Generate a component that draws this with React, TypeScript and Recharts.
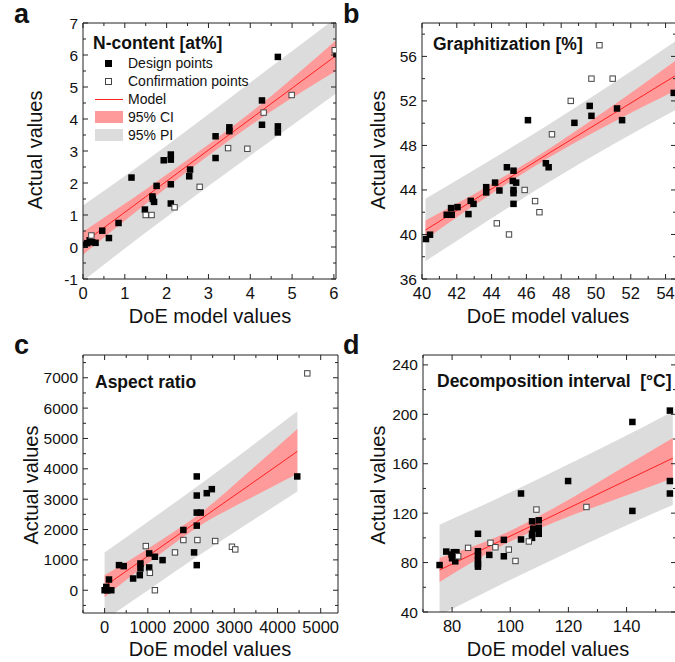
import React from "react";
import { Area, ComposedChart, Line, ReferenceLine, Scatter, XAxis, YAxis } from "recharts";

// ---- panel a: N-content ----
const aDesignX = [0.04, 0.1, 0.16, 0.22, 0.3, 0.46, 0.62, 0.85, 1.16, 1.48, 1.66, 1.67, 1.7, 1.76, 1.93, 2.1, 2.1, 2.1, 2.1, 2.54, 2.56, 3.17, 3.17, 3.5, 3.5, 4.28, 4.28, 4.66, 4.66, 4.66, 6.06];
const aDesignY = [0.07, 0.12, 0.21, 0.15, 0.13, 0.51, 0.28, 0.75, 2.17, 1.17, 1.58, 1.5, 1.41, 1.91, 2.71, 2.89, 2.73, 1.96, 1.36, 2.21, 2.42, 3.46, 2.78, 3.74, 3.62, 4.58, 3.82, 5.94, 3.77, 3.58, 6.03];
const aConfX = [0.2, 1.5, 1.64, 2.19, 2.79, 3.47, 3.93, 4.32, 4.99, 6.02];
const aConfY = [0.36, 1.0, 1.0, 1.24, 1.88, 3.09, 3.07, 4.2, 4.75, 6.15];
const aBandX = [0, 1.5, 3, 4.5, 6.05];
const aModel = [0.12, 1.57, 3.03, 4.48, 5.98];
const aCiLow = [-0.24, 1.34, 2.86, 4.24, 5.5];
const aCiHigh = [0.48, 1.8, 3.2, 4.72, 6.46];
const aPiLow = [-1.06, 0.45, 1.91, 3.33, 4.8];
const aPiHigh = [1.3, 2.69, 4.15, 5.63, 7.16];
const aXMajor = [0, 1, 2, 3, 4, 5, 6];
const aYMajor = [-1, 0, 1, 2, 3, 4, 5, 6, 7];

// ---- panel b: Graphitization ----
const bDesignX = [40.23, 40.46, 41.42, 41.67, 41.71, 42.04, 42.67, 42.8, 42.96, 43.69, 43.69, 44.2, 44.45, 44.88, 45.22, 45.26, 45.41, 45.26, 45.26, 45.26, 46.09, 47.12, 47.28, 48.76, 49.64, 49.74, 51.21, 51.5, 54.47];
const bDesignY = [39.59, 39.98, 41.77, 42.37, 41.77, 42.46, 41.83, 43.02, 42.75, 44.25, 43.78, 44.66, 43.95, 46.04, 44.81, 45.73, 44.66, 44.0, 43.71, 42.75, 50.27, 46.4, 46.04, 50.03, 51.55, 50.66, 51.32, 50.27, 52.72];
const bConfX = [50.2, 49.74, 50.96, 48.55, 47.47, 45.9, 46.5, 46.75, 44.3, 45.0];
const bConfY = [57.0, 54.0, 54.0, 52.0, 49.0, 44.0, 43.0, 42.0, 41.0, 40.0];
const bBandX = [40.2, 43.8, 47.4, 51, 54.6];
const bModel = [40.4, 43.9, 47.4, 50.85, 54.3];
const bCiLow = [39.55, 43.45, 47.0, 50.1, 52.95];
const bCiHigh = [41.25, 44.35, 47.8, 51.6, 55.65];
const bPiLow = [37.6, 41.25, 44.8, 48.1, 51.2];
const bPiHigh = [43.2, 46.55, 50.0, 53.6, 57.4];
const bXMajor = [40, 42, 44, 46, 48, 50, 52, 54];
const bYMajor = [36, 40, 44, 48, 52, 56];

// ---- panel c: Aspect ratio ----
const cDesignX = [0, 39, 62, 101, 155, 333, 442, 659, 814, 829, 829, 1031, 1031, 1163, 1341, 1822, 2070, 2132, 2132, 2132, 2132, 2132, 2225, 2364, 2481, 4457];
const cDesignY = [0, 110, 0, 353, 0, 827, 794, 386, 496, 882, 717, 1213, 750, 1103, 992, 1985, 1246, 3749, 3120, 2558, 2128, 827, 2558, 3197, 3330, 3749];
const cConfX = [953, 1047, 1163, 1628, 1822, 2147, 2558, 2946, 3023, 4690];
const cConfY = [1455, 573, 0, 1246, 1654, 1654, 1621, 1433, 1345, 7144];
const cBandX = [0, 1115, 2230, 3345, 4460];
const cModel = [130, 1240, 2350, 3460, 4575];
const cCiLow = [-230, 1010, 2150, 3010, 3835];
const cCiHigh = [490, 1470, 2550, 3910, 5315];
const cPiLow = [-980, 110, 1190, 2230, 3250];
const cPiHigh = [1240, 2370, 3510, 4690, 5900];
const cXMajor = [0, 1000, 2000, 3000, 4000, 5000];
const cYMajor = [0, 1000, 2000, 3000, 4000, 5000, 6000, 7000];

// ---- panel d: Decomposition interval ----
const dDesignX = [75.7, 78.0, 79.8, 80.0, 80.6, 81.5, 81.1, 88.9, 88.9, 88.9, 88.9, 88.9, 88.9, 92.8, 97.8, 97.8, 103.7, 103.7, 107.5, 107.5, 107.5, 107.9, 109.8, 109.8, 109.8, 119.9, 142.0, 142.0, 154.9, 154.9, 154.9];
const dDesignY = [78.0, 88.9, 86.5, 83.5, 88.4, 88.4, 81.0, 103.3, 89.2, 85.7, 82.1, 78.8, 76.7, 86.2, 98.4, 85.1, 135.9, 98.7, 113.4, 103.3, 100.0, 107.4, 114.2, 108.2, 103.3, 146.0, 193.8, 121.8, 203.0, 146.0, 135.9];
const dConfX = [82.1, 85.5, 93.2, 94.9, 99.5, 101.8, 106.4, 109.0, 126.2];
const dConfY = [85.1, 91.9, 96.0, 92.4, 90.5, 81.3, 97.1, 122.9, 125.0];
const dBandX = [75.7, 95.75, 115.8, 135.85, 155.9];
const dModel = [74, 96.6, 119.25, 141.9, 164.5];
const dCiLow = [64.2, 92.1, 113.3, 130.9, 148.2];
const dCiHigh = [83.8, 101.1, 125.2, 152.9, 180.8];
const dPiLow = [37.3, 61.1, 83.7, 105.8, 126.7];
const dPiHigh = [110.7, 132.1, 154.8, 178, 202.3];
const dXMajor = [80, 100, 120, 140];
const dYMajor = [40, 80, 120, 160, 200, 240];

const FONT = '"Liberation Sans", Arial, Helvetica, sans-serif';
const FRAME = "#222";

const pts = (xs: number[], ys: number[]) => xs.map((x, i) => ({ x, y: ys[i] }));
const bands = (xs: number[], m: number[], cl: number[], ch: number[], pl: number[], ph: number[]) =>
  xs.map((x, i) => ({ x, model: m[i], ci: [cl[i], ch[i]], pi: [pl[i], ph[i]] }));

// majors plus a minor tick halfway between each, kept inside the domain
function withMinors(majors: number[], domain: [number, number]) {
  const step = majors[1] - majors[0];
  const out: number[] = [];
  for (let v = majors[0] - step / 2; v <= majors[majors.length - 1] + step / 2 + 1e-9; v += step / 2) {
    const r = Math.round(v * 1000) / 1000;
    if (r >= domain[0] - 1e-9 && r <= domain[1] + 1e-9) out.push(r);
  }
  return out;
}

const BlackSquare = (p: any) => <rect x={p.cx - 3.25} y={p.cy - 3.25} width={6.5} height={6.5} fill="#000" />;
const WhiteSquare = (p: any) => (
  <rect x={p.cx - 2.7} y={p.cy - 2.7} width={5.4} height={5.4} fill="#fff" stroke="#444" strokeWidth={1} />
);

type PanelProps = {
  left: number;
  top: number;
  width: number;
  height: number;
  margin: { top: number; right: number; bottom: number; left: number };
  xDomain: [number, number];
  yDomain: [number, number];
  xMajor: number[];
  yMajor: number[];
  band: any[];
  design: { x: number; y: number }[];
  conf: { x: number; y: number }[];
};

function Panel(p: PanelProps) {
  const plotW = p.width - p.margin.left - p.margin.right - 60;
  const plotH = p.height - p.margin.top - p.margin.bottom - 30;

  const xTick = (t: any) => {
    const v = t.payload.value;
    const major = p.xMajor.includes(v);
    const len = major ? 5 : 3;
    return (
      <g>
        <line x1={t.x} y1={t.y} x2={t.x} y2={t.y - len} stroke={FRAME} />
        <line x1={t.x} y1={t.y - plotH} x2={t.x} y2={t.y - plotH + len} stroke={FRAME} />
        {major && (
          <text x={t.x} y={t.y + 19.5} textAnchor="middle" fontSize={16.5} fill="#111" fontFamily={FONT}>
            {v}
          </text>
        )}
      </g>
    );
  };

  const yTick = (t: any) => {
    const v = t.payload.value;
    const major = p.yMajor.includes(v);
    const len = major ? 5 : 3;
    return (
      <g>
        <line x1={t.x} y1={t.y} x2={t.x + len} y2={t.y} stroke={FRAME} />
        <line x1={t.x + plotW} y1={t.y} x2={t.x + plotW - len} y2={t.y} stroke={FRAME} />
        {major && (
          <text x={t.x - 5} y={t.y + 5.5} textAnchor="end" fontSize={15.5} fill="#111" fontFamily={FONT}>
            {v}
          </text>
        )}
      </g>
    );
  };

  return (
    <div style={{ position: "absolute", left: p.left, top: p.top }}>
      <ComposedChart width={p.width} height={p.height} margin={p.margin} data={p.band}>
        <XAxis
          dataKey="x"
          type="number"
          domain={p.xDomain}
          ticks={withMinors(p.xMajor, p.xDomain)}
          interval={0}
          allowDataOverflow
          height={30}
          tickSize={0}
          tickMargin={0}
          tickLine={false}
          tick={xTick}
          axisLine={{ stroke: FRAME }}
        />
        <YAxis
          dataKey="y"
          type="number"
          domain={p.yDomain}
          ticks={withMinors(p.yMajor, p.yDomain)}
          interval={0}
          allowDataOverflow
          width={60}
          tickSize={0}
          tickMargin={0}
          tickLine={false}
          tick={yTick}
          axisLine={{ stroke: FRAME }}
        />
        <Area dataKey="pi" type="monotone" stroke="none" fill="#dcdcdc" fillOpacity={1} isAnimationActive={false} />
        <Area dataKey="ci" type="monotone" stroke="none" fill="#ff9a9a" fillOpacity={1} isAnimationActive={false} />
        <Line dataKey="model" type="linear" stroke="#ff2020" strokeWidth={1} dot={false} isAnimationActive={false} />
        <Scatter data={p.design} dataKey="y" shape={BlackSquare} isAnimationActive={false} />
        <Scatter data={p.conf} dataKey="y" shape={WhiteSquare} isAnimationActive={false} />
        <ReferenceLine y={p.yDomain[1]} stroke={FRAME} />
        <ReferenceLine x={p.xDomain[1]} stroke={FRAME} />
      </ComposedChart>
    </div>
  );
}

const abs = (style: React.CSSProperties): React.CSSProperties => ({ position: "absolute", whiteSpace: "nowrap", ...style });

function YTitle({ x, y }: { x: number; y: number }) {
  return (
    <div style={abs({ left: x, top: y, fontSize: 20, transform: "translate(-50%, -50%) rotate(-90deg)" })}>Actual values</div>
  );
}
function XTitle({ x, y }: { x: number; y: number }) {
  return <div style={abs({ left: x, top: y, fontSize: 20, transform: "translate(-50%, -50%)" })}>DoE model values</div>;
}
function Letter({ x, y, t }: { x: number; y: number; t: string }) {
  return <div style={abs({ left: x, top: y, fontSize: 27, fontWeight: 700, lineHeight: "27px" })}>{t}</div>;
}
function Title({ x, y, t }: { x: number; y: number; t: string }) {
  return (
    <div style={abs({ left: x, top: y, fontSize: 17.5, fontWeight: 700, transform: "translateY(-50%)" })}>{t}</div>
  );
}

function LegendA() {
  const row = (y: number, sym: React.ReactNode, label: string) => (
    <>
      <div style={abs({ left: 95, top: y - 7, width: 28, height: 14 })}>{sym}</div>
      <div style={abs({ left: 128, top: y, fontSize: 14, transform: "translateY(-50%)" })}>{label}</div>
    </>
  );
  return (
    <>
      {row(63, <div style={{ position: "absolute", left: 10, top: 4, width: 6.5, height: 6.5, background: "#000" }} />, "Design points")}
      {row(
        81,
        <div style={{ position: "absolute", left: 10, top: 4, width: 4.5, height: 4.5, background: "#fff", border: "1px solid #444" }} />,
        "Confirmation points"
      )}
      {row(99, <div style={{ position: "absolute", left: 0, top: 6.5, width: 28, height: 1.5, background: "#ff2020" }} />, "Model")}
      {row(117, <div style={{ position: "absolute", left: 0, top: 1, width: 28, height: 12, background: "#ff9a9a" }} />, "95% CI")}
      {row(135, <div style={{ position: "absolute", left: 0, top: 1, width: 28, height: 12, background: "#dcdcdc" }} />, "95% PI")}
    </>
  );
}

export default function App() {
  return (
    <div
      style={{
        position: "absolute",
        left: 0,
        top: 0,
        width: 675,
        height: 662,
        overflow: "hidden",
        background: "#fff",
        fontFamily: FONT,
        color: "#111",
      }}
    >
      <Panel
        left={0}
        top={0}
        width={345}
        height={330}
        margin={{ top: 23, right: 9, bottom: 21, left: 23 }}
        xDomain={[0, 6.05]}
        yDomain={[-1, 7]}
        xMajor={aXMajor}
        yMajor={aYMajor}
        band={bands(aBandX, aModel, aCiLow, aCiHigh, aPiLow, aPiHigh)}
        design={pts(aDesignX, aDesignY)}
        conf={pts(aConfX, aConfY)}
      />
      <Panel
        left={340}
        top={0}
        width={340}
        height={330}
        margin={{ top: 23, right: 4, bottom: 21, left: 22 }}
        xDomain={[40, 54.6]}
        yDomain={[36, 59]}
        xMajor={bXMajor}
        yMajor={bYMajor}
        band={bands(bBandX, bModel, bCiLow, bCiHigh, bPiLow, bPiHigh)}
        design={pts(bDesignX, bDesignY)}
        conf={pts(bConfX, bConfY)}
      />
      <Panel
        left={0}
        top={330}
        width={345}
        height={332}
        margin={{ top: 25, right: 7, bottom: 19, left: 23 }}
        xDomain={[-500, 5400]}
        yDomain={[-750, 7750]}
        xMajor={cXMajor}
        yMajor={cYMajor}
        band={bands(cBandX, cModel, cCiLow, cCiHigh, cPiLow, cPiHigh)}
        design={pts(cDesignX, cDesignY)}
        conf={pts(cConfX, cConfY)}
      />
      <Panel
        left={340}
        top={330}
        width={340}
        height={332}
        margin={{ top: 25, right: 4, bottom: 20, left: 23 }}
        xDomain={[70, 157]}
        yDomain={[40, 248]}
        xMajor={dXMajor}
        yMajor={dYMajor}
        band={bands(dBandX, dModel, dCiLow, dCiHigh, dPiLow, dPiHigh)}
        design={pts(dDesignX, dDesignY)}
        conf={pts(dConfX, dConfY)}
      />

      <Letter x={14} y={1} t="a" />
      <Letter x={343} y={1} t="b" />
      <Letter x={14} y={332} t="c" />
      <Letter x={343} y={332} t="d" />

      <YTitle x={35} y={150} />
      <YTitle x={378} y={150} />
      <YTitle x={31} y={485} />
      <YTitle x={378} y={485} />

      <XTitle x={210} y={316} />
      <XTitle x={548} y={316} />
      <XTitle x={210} y={649} />
      <XTitle x={548} y={649} />

      <Title x={93} y={43} t="N-content [at%]" />
      <Title x={433} y={44} t="Graphitization [%]" />
      <Title x={95} y={382} t="Aspect ratio" />
      <Title x={437} y={381} t={"Decomposition interval\u00a0\u00a0[°C]"} />
      <LegendA />
    </div>
  );
}
